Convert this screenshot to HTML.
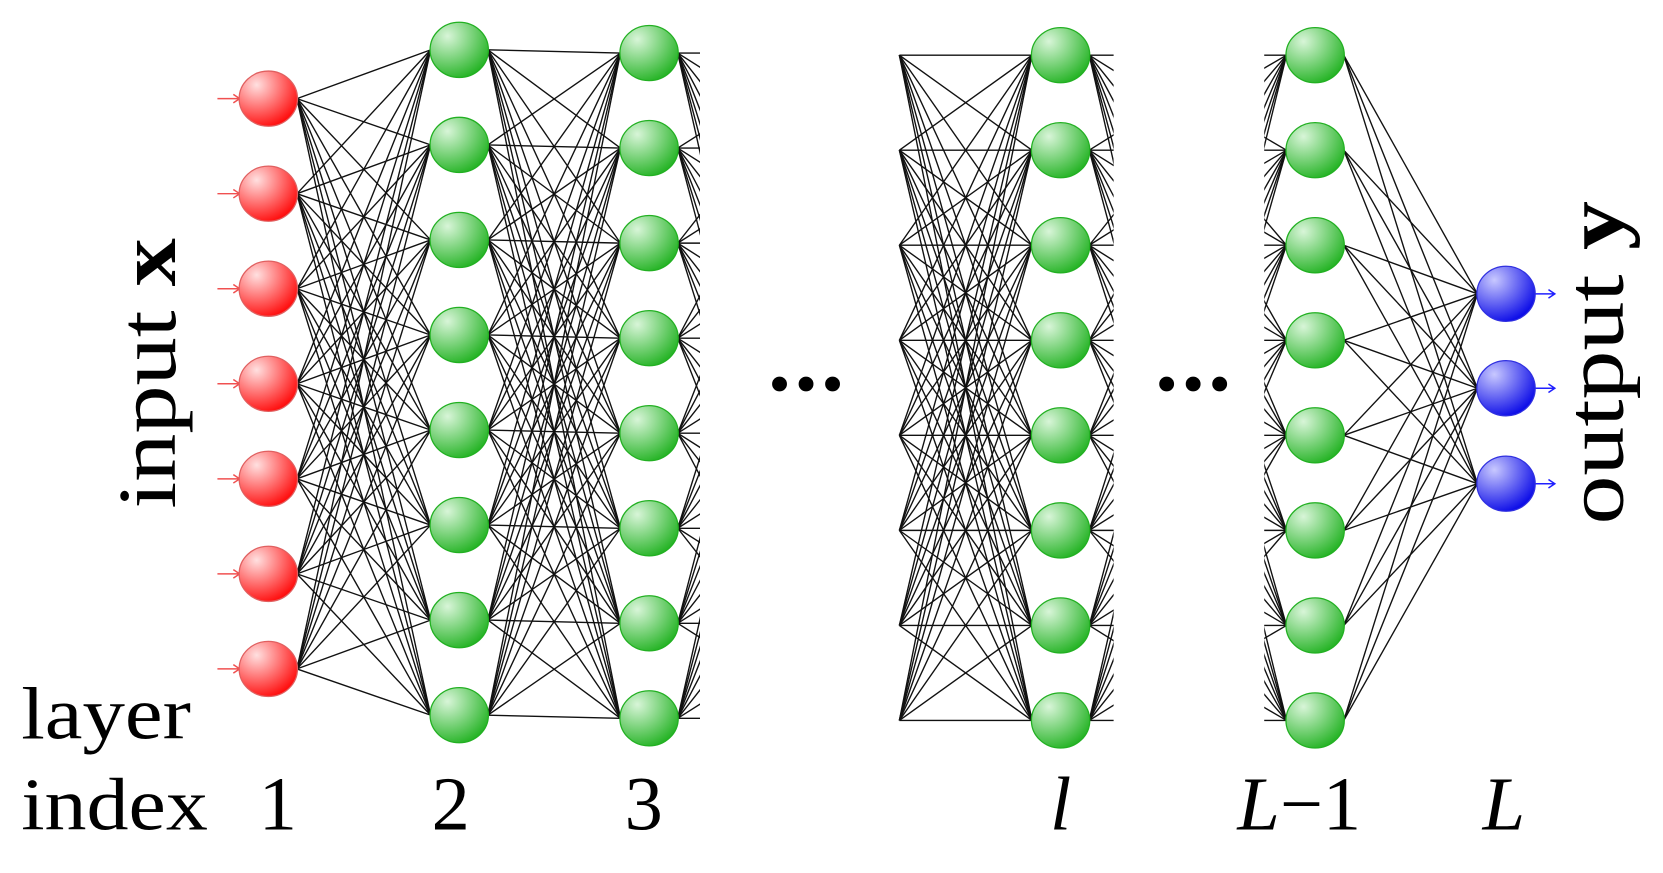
<!DOCTYPE html>
<html><head><meta charset="utf-8"><style>
html,body{margin:0;padding:0;background:#fff;width:1663px;height:873px;overflow:hidden}
svg{display:block}
text{font-family:"Liberation Serif",serif;fill:#000}
</style></head><body>
<svg id="s" width="1663" height="873" viewBox="0 0 1568 823" preserveAspectRatio="none" xmlns="http://www.w3.org/2000/svg">
<defs>
<radialGradient id="gr" cx="0.3" cy="0.25" r="0.85"><stop offset="0" stop-color="#ffe0e0"/><stop offset="1" stop-color="#ff0000"/></radialGradient>
<radialGradient id="gg" cx="0.3" cy="0.25" r="0.85"><stop offset="0" stop-color="#d8f5d8"/><stop offset="1" stop-color="#1cb01c"/></radialGradient>
<radialGradient id="gb" cx="0.3" cy="0.25" r="0.85"><stop offset="0" stop-color="#c8c8ff"/><stop offset="1" stop-color="#0000e6"/></radialGradient>
<clipPath id="c3"><rect x="0" y="0" width="660" height="823"/></clipPath>
<clipPath id="cl"><rect x="848" y="0" width="202" height="823"/></clipPath>
<clipPath id="cL"><rect x="1192" y="0" width="400" height="823"/></clipPath>
</defs>
<g id="edges" stroke="#111" stroke-width="1.3" fill="none"></g>
<g id="nodes"></g>
<circle cx="735" cy="362" r="7"/><circle cx="760" cy="362" r="7"/><circle cx="785" cy="362" r="7"/>
<circle cx="1100" cy="362" r="7"/><circle cx="1125" cy="362" r="7"/><circle cx="1150" cy="362" r="7"/>
<text transform="translate(165,352) rotate(-90)" font-size="78" text-anchor="middle" textLength="255" lengthAdjust="spacingAndGlyphs">input <tspan font-weight="bold">x</tspan></text>
<text transform="translate(1530,342) rotate(-90)" font-size="78" text-anchor="middle" textLength="305" lengthAdjust="spacingAndGlyphs">output <tspan font-weight="bold">y</tspan></text>
<text x="20" y="696" font-size="70" textLength="160" lengthAdjust="spacingAndGlyphs">layer</text>
<text x="20" y="782" font-size="70" textLength="176" lengthAdjust="spacingAndGlyphs">index</text>
<text x="262" y="782" font-size="72" text-anchor="middle">1</text>
<text x="425" y="782" font-size="72" text-anchor="middle">2</text>
<text x="607" y="782" font-size="72" text-anchor="middle">3</text>
<text x="1000" y="782" font-size="72" text-anchor="middle" font-style="italic">l</text>
<text x="1225" y="782" font-size="72" text-anchor="middle"><tspan font-style="italic">L</tspan>−1</text>
<text x="1418" y="782" font-size="72" text-anchor="middle" font-style="italic">L</text>
</svg>
<script>
var NS="http://www.w3.org/2000/svg";
var E=document.getElementById("edges"),N=document.getElementById("nodes");
function ys(a,n){var r=[];for(var i=0;i<n;i++)r.push(a+i*89.6);return r;}
var L1=ys(93,7),L2=ys(47,8),L3=ys(50,8),Ll=ys(52,8),Lm=ys(52,8),LL=[277,366,456];
function line(x1,y1,x2,y2,clip){var l=document.createElementNS(NS,"line");l.setAttribute("x1",x1);l.setAttribute("y1",y1);l.setAttribute("x2",x2);l.setAttribute("y2",y2);if(clip)l.setAttribute("clip-path","url(#"+clip+")");E.appendChild(l);}
function full(xa,A,xb,B,clip){A.forEach(function(a){B.forEach(function(b){line(xa,a,xb,b,clip);});});}
full(280,L1,406,L2);
full(460,L2,585,L3);
full(639,L3,780,L3,"c3");
full(848,Ll,973,Ll);
full(1027,Ll,1170,Ll,"cl");
full(1060,Lm,1213,Lm,"cL");
full(1267,Lm,1393,LL);
function node(x,y,f,s){var e=document.createElementNS(NS,"ellipse");e.setAttribute("cx",x);e.setAttribute("cy",y);e.setAttribute("rx",27.5);e.setAttribute("ry",26);e.setAttribute("fill","url(#"+f+")");e.setAttribute("stroke",s);e.setAttribute("stroke-width",1.2);N.appendChild(e);}
function arrow(x1,x2,y,c){var l=document.createElementNS(NS,"path");l.setAttribute("d","M"+x1+" "+y+"H"+x2+"M"+(x2-6)+" "+(y-4)+"L"+x2+" "+y+"L"+(x2-6)+" "+(y+4));l.setAttribute("stroke",c);l.setAttribute("stroke-width",1.4);l.setAttribute("fill","none");N.appendChild(l);}
L1.forEach(function(y){arrow(205,226,y,"#f05050");node(253,y,"gr","#e06060");});
L2.forEach(function(y){node(433,y,"gg","#22b022");});
L3.forEach(function(y){node(612,y,"gg","#22b022");});
Ll.forEach(function(y){node(1000,y,"gg","#22b022");});
Lm.forEach(function(y){node(1240,y,"gg","#22b022");});
LL.forEach(function(y){arrow(1446,1466,y,"#2020ff");node(1420,y,"gb","#3030e0");});
</script>
</body></html>
